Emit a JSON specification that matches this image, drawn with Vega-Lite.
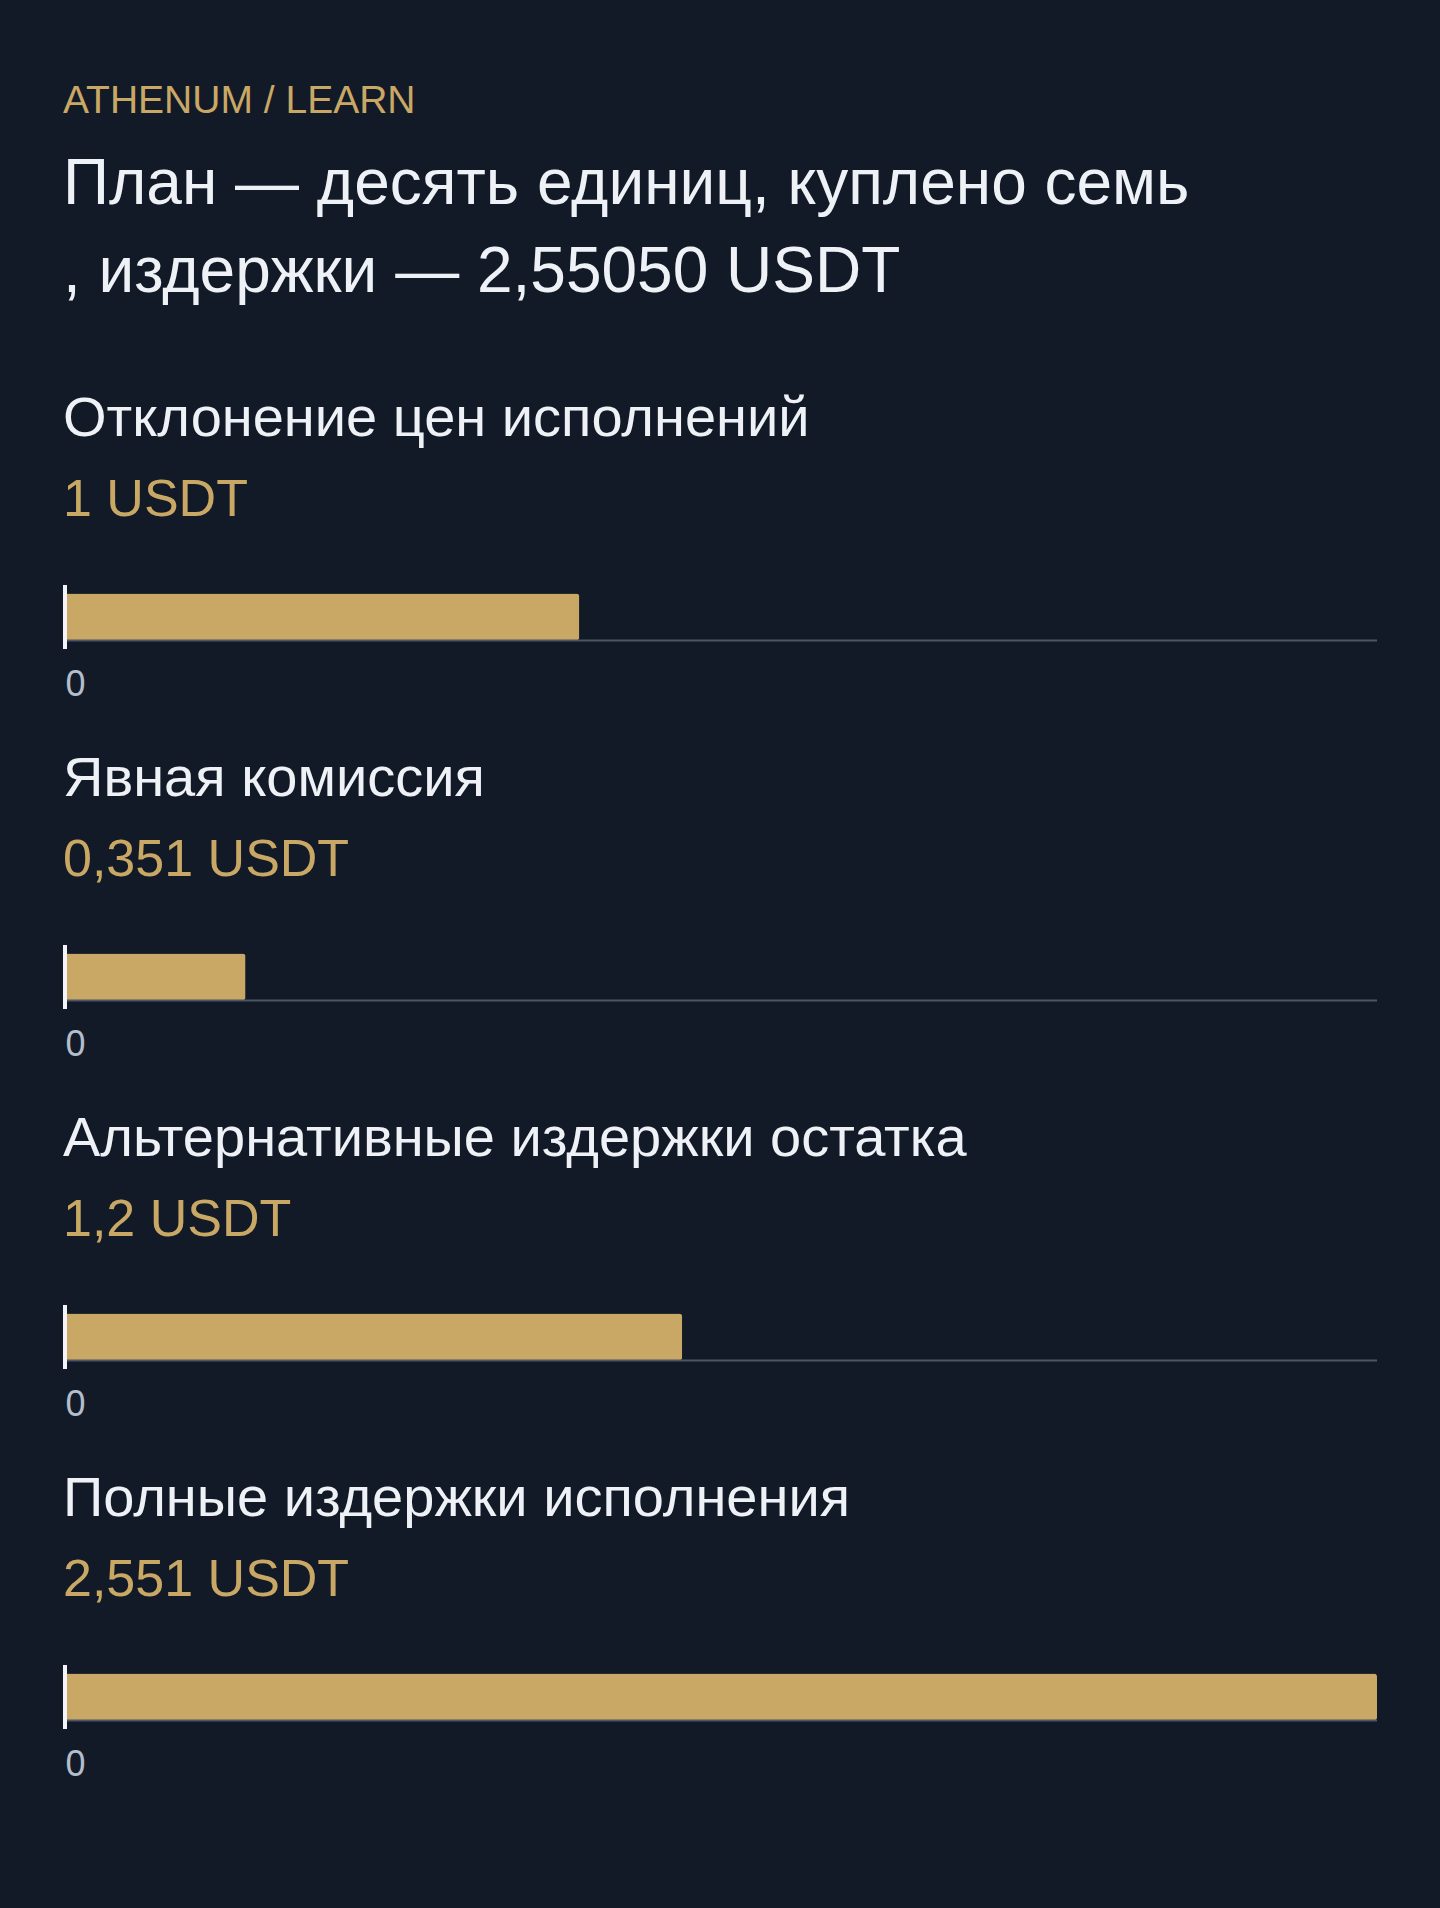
{
  "$schema": "https://vega.github.io/schema/vega-lite/v6.json",
  "background": "#131a27",
  "padding": {"left": 63, "right": 63, "top": 82, "bottom": 141},
  "datasets": {
    "costs": [
      {"category": "Отклонение цен исполнений", "value": 1.0},
      {"category": "Явная комиссия", "value": 0.351},
      {"category": "Альтернативные издержки остатка", "value": 1.2},
      {"category": "Полные издержки исполнения", "value": 2.551}
    ]
  },
  "title": {
    "text": "ATHENUM / LEARN",
    "subtitle": ["План — десять единиц, куплено семь", ", издержки — 2,55050 USDT"],
    "anchor": "start",
    "font": "Liberation Sans",
    "fontSize": 39,
    "fontWeight": "normal",
    "color": "#c9a865",
    "subtitleFont": "Liberation Sans",
    "subtitleFontSize": 64,
    "subtitleColor": "#eef1f6",
    "subtitleLineHeight": 88,
    "subtitlePadding": 32,
    "offset": 86
  },
  "spacing": 49,
  "vconcat": [
    {
      "title": {"text": "Отклонение цен исполнений", "subtitle": "1 USDT"},
      "width": 1312, "height": 64,
      "data": {"name": "costs"},
      "transform": [{"filter": "datum.category === 'Отклонение цен исполнений'"}],
      "layer": [
        {"mark": {"type": "bar", "color": "#c9a865", "cornerRadiusEnd": 3},
         "encoding": {"x": {"field": "value", "type": "quantitative", "scale": {"domain": [0, 2.551], "nice": false}, "axis": {"values": [0], "format": "d"}},
                      "y": {"field": "category", "type": "nominal", "axis": null, "scale": {"paddingInner": 0, "paddingOuter": 0.18}}}},
        {"mark": {"type": "rule", "color": "#4b5565", "strokeWidth": 2},
         "encoding": {"x": {"datum": 0}, "x2": {"datum": 2.551}, "y": {"field": "category", "type": "nominal", "bandPosition": 1}}},
        {"mark": {"type": "rule", "color": "#f2f4f8", "strokeWidth": 4},
         "encoding": {"x": {"datum": 0}}}
      ]
    },
    {
      "title": {"text": "Явная комиссия", "subtitle": "0,351 USDT"},
      "width": 1312, "height": 64,
      "data": {"name": "costs"},
      "transform": [{"filter": "datum.category === 'Явная комиссия'"}],
      "layer": [
        {"mark": {"type": "bar", "color": "#c9a865", "cornerRadiusEnd": 3},
         "encoding": {"x": {"field": "value", "type": "quantitative", "scale": {"domain": [0, 2.551], "nice": false}, "axis": {"values": [0], "format": "d"}},
                      "y": {"field": "category", "type": "nominal", "axis": null, "scale": {"paddingInner": 0, "paddingOuter": 0.18}}}},
        {"mark": {"type": "rule", "color": "#4b5565", "strokeWidth": 2},
         "encoding": {"x": {"datum": 0}, "x2": {"datum": 2.551}, "y": {"field": "category", "type": "nominal", "bandPosition": 1}}},
        {"mark": {"type": "rule", "color": "#f2f4f8", "strokeWidth": 4},
         "encoding": {"x": {"datum": 0}}}
      ]
    },
    {
      "title": {"text": "Альтернативные издержки остатка", "subtitle": "1,2 USDT"},
      "width": 1312, "height": 64,
      "data": {"name": "costs"},
      "transform": [{"filter": "datum.category === 'Альтернативные издержки остатка'"}],
      "layer": [
        {"mark": {"type": "bar", "color": "#c9a865", "cornerRadiusEnd": 3},
         "encoding": {"x": {"field": "value", "type": "quantitative", "scale": {"domain": [0, 2.551], "nice": false}, "axis": {"values": [0], "format": "d"}},
                      "y": {"field": "category", "type": "nominal", "axis": null, "scale": {"paddingInner": 0, "paddingOuter": 0.18}}}},
        {"mark": {"type": "rule", "color": "#4b5565", "strokeWidth": 2},
         "encoding": {"x": {"datum": 0}, "x2": {"datum": 2.551}, "y": {"field": "category", "type": "nominal", "bandPosition": 1}}},
        {"mark": {"type": "rule", "color": "#f2f4f8", "strokeWidth": 4},
         "encoding": {"x": {"datum": 0}}}
      ]
    },
    {
      "title": {"text": "Полные издержки исполнения", "subtitle": "2,551 USDT"},
      "width": 1312, "height": 64,
      "data": {"name": "costs"},
      "transform": [{"filter": "datum.category === 'Полные издержки исполнения'"}],
      "layer": [
        {"mark": {"type": "bar", "color": "#c9a865", "cornerRadiusEnd": 3},
         "encoding": {"x": {"field": "value", "type": "quantitative", "scale": {"domain": [0, 2.551], "nice": false}, "axis": {"values": [0], "format": "d"}},
                      "y": {"field": "category", "type": "nominal", "axis": null, "scale": {"paddingInner": 0, "paddingOuter": 0.18}}}},
        {"mark": {"type": "rule", "color": "#4b5565", "strokeWidth": 2},
         "encoding": {"x": {"datum": 0}, "x2": {"datum": 2.551}, "y": {"field": "category", "type": "nominal", "bandPosition": 1}}},
        {"mark": {"type": "rule", "color": "#f2f4f8", "strokeWidth": 4},
         "encoding": {"x": {"datum": 0}}}
      ]
    }
  ],
  "config": {
    "view": {"stroke": null},
    "font": "Liberation Sans",
    "title": {
      "anchor": "start",
      "font": "Liberation Sans",
      "fontSize": 56,
      "fontWeight": "normal",
      "color": "#eef1f6",
      "subtitleFont": "Liberation Sans",
      "subtitleFontSize": 52,
      "subtitleColor": "#c9a865",
      "subtitlePadding": 27,
      "offset": 56
    },
    "axisX": {
      "title": null,
      "domain": false,
      "grid": false,
      "ticks": false,
      "tickSize": 0,
      "labelFont": "Liberation Sans",
      "labelFontSize": 36,
      "labelColor": "#b4bdca",
      "labelAlign": "left",
      "labelPadding": 18
    }
  }
}
